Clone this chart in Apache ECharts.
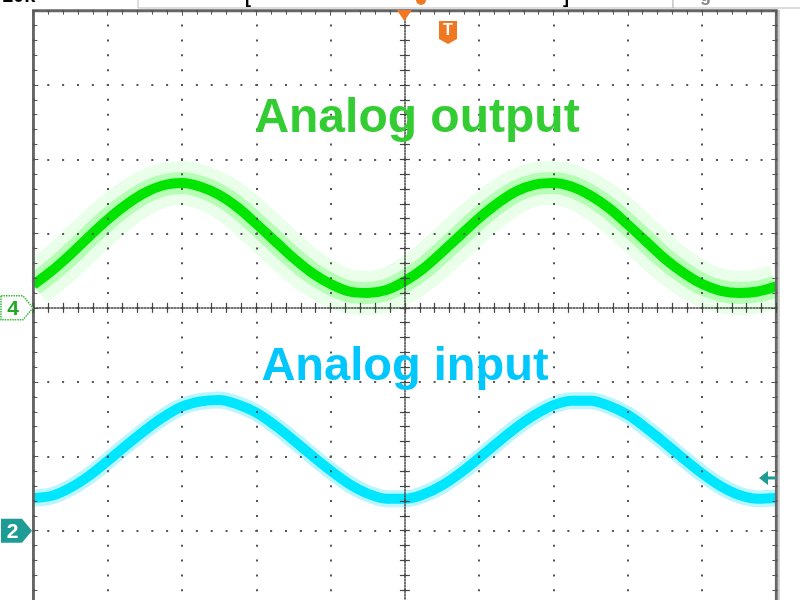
<!DOCTYPE html>
<html>
<head>
<meta charset="utf-8">
<script src="https://cdn.jsdelivr.net/npm/echarts@6.0.0/dist/echarts.min.js"></script>
<style>html,body{margin:0;padding:0;background:#fff;}#c{width:800px;height:600px;}</style>
</head>
<body>
<div id="c"></div>
<script>
// Time axis in screen divisions (0..10)
const timeDiv = [0,0.25,0.5,0.75,1,1.25,1.5,1.75,2,2.25,2.5,2.75,3,3.25,3.5,3.75,4,4.25,4.5,4.75,5,5.25,5.5,5.75,6,6.25,6.5,6.75,7,7.25,7.5,7.75,8,8.25,8.5,8.75,9,9.25,9.5,9.75,10];
// Channel 4 (green) "Analog output", vertical position in divisions from centre
const outputDiv = [0.31,0.50,0.72,0.96,1.19,1.39,1.55,1.65,1.68,1.63,1.52,1.35,1.13,0.90,0.67,0.47,0.32,0.22,0.20,0.24,0.36,0.53,0.75,0.98,1.21,1.41,1.57,1.66,1.68,1.63,1.51,1.34,1.12,0.89,0.66,0.47,0.32,0.23,0.20,0.22,0.29];
// Channel 2 (cyan) "Analog input"
const inputDiv = [-2.56,-2.53,-2.42,-2.26,-2.06,-1.85,-1.65,-1.47,-1.33,-1.26,-1.24,-1.30,-1.41,-1.58,-1.78,-1.99,-2.19,-2.37,-2.50,-2.57,-2.57,-2.51,-2.39,-2.22,-2.02,-1.81,-1.61,-1.44,-1.31,-1.25,-1.25,-1.32,-1.44,-1.62,-1.82,-2.03,-2.23,-2.40,-2.52,-2.57,-2.56];
const labels = ['Analog output', 'Analog input'];
const ch4Ground = 0, ch2Ground = -3, ch2Trigger = -2.29;

const outData = timeDiv.map((t, i) => [t, outputDiv[i]]);
const inData = timeDiv.map((t, i) => [t, inputDiv[i]]);

const chart = echarts.init(document.getElementById('c'), null, {renderer: 'canvas'});
const G = {left: 33.4, top: 10.7, width: 743, height: 594.3, containLabel: false, outerBoundsMode: 'none'};
const dotStyle = {color: '#555', width: 2, type: [2, 12.86], dashOffset: 1};
const tickCol = '#555';
function borderAxis(extra) {
  return Object.assign({
    type: 'value', z: 5, axisLabel: {show: false},
    axisLine: {show: false, onZero: false},
    axisTick: {show: true, inside: true, length: 5, lineStyle: {color: tickCol, width: 1}},
    minorTick: {show: true, splitNumber: 5, length: 4, lineStyle: {color: tickCol, width: 1}},
    splitLine: {show: false}
  }, extra);
}
function centreAxis(extra, inside, showLine) {
  return Object.assign({
    type: 'value', z: 6, axisLabel: {show: false},
    axisLine: {show: true, onZero: true, lineStyle: {color: '#444', width: 1.5, type: [1.5, 1.5], opacity: showLine ? 1 : 0}},
    axisTick: {show: true, inside: inside, length: 5, lineStyle: {color: '#444', width: 1.2}},
    minorTick: {show: true, splitNumber: 5, length: 5, lineStyle: {color: '#444', width: 1.2}},
    splitLine: {show: false}
  }, extra);
}
const lineBase = {type: 'line', xAxisIndex: 0, yAxisIndex: 0, smooth: 0.35, symbol: 'none', silent: true, z: 2};

chart.setOption({
  animation: false,
  backgroundColor: '#fff',
  grid: [
    Object.assign({show: true, borderColor: '#666', borderWidth: 3, backgroundColor: 'transparent', z: 5}, G),
    Object.assign({}, G),
    Object.assign({}, G)
  ],
  xAxis: [
    borderAxis({gridIndex: 0, min: 0, max: 10, interval: 1, position: 'top', splitLine: {show: true, lineStyle: dotStyle}}),
    centreAxis({gridIndex: 1, min: -5, max: 5, interval: 1}, true, true),
    centreAxis({gridIndex: 2, min: -5, max: 5, interval: 1}, false, false)
  ],
  yAxis: [
    borderAxis({gridIndex: 0, min: -4, max: 4, interval: 1, position: 'left', splitLine: {show: true, lineStyle: dotStyle}}),
    borderAxis({gridIndex: 0, min: -4, max: 4, interval: 1, position: 'right'}),
    centreAxis({gridIndex: 1, min: -4, max: 4, interval: 1}, true, true),
    centreAxis({gridIndex: 2, min: -4, max: 4, interval: 1}, false, false)
  ],
  series: [
    Object.assign({data: outData, lineStyle: {width: 44, color: 'rgba(195,255,195,0.35)', cap: 'butt'}}, lineBase),
    Object.assign({data: outData, lineStyle: {width: 22, color: 'rgba(120,250,120,0.45)', cap: 'butt'}}, lineBase),
    Object.assign({data: outData, lineStyle: {width: 10, color: '#00e400', cap: 'butt'}}, lineBase),
    Object.assign({data: inData, lineStyle: {width: 17, color: 'rgba(120,235,255,0.5)', cap: 'butt'}}, lineBase),
    Object.assign({data: inData, lineStyle: {width: 10, color: '#00e6ff', cap: 'butt'}}, lineBase)
  ]
});

const y4 = chart.convertToPixel({yAxisIndex: 0}, ch4Ground);
const y2 = chart.convertToPixel({yAxisIndex: 0}, ch2Ground);
const yT = chart.convertToPixel({yAxisIndex: 0}, ch2Trigger);
const xc = chart.convertToPixel({xAxisIndex: 0}, 5);
const xl = G.left, xr = G.left + G.width;
const orange = '#f07820', teal = '#1e9b95';
const font = (s) => 'bold ' + s + 'px "Liberation Sans", Arial, sans-serif';

chart.setOption({
  graphic: [
    // white margins outside the screen (hide trace overflow)
    {type: 'rect', z: 8, shape: {x: 0, y: 0, width: xl - 1.5, height: 600}, style: {fill: '#fff'}},
    {type: 'rect', z: 8, shape: {x: xr + 1.5, y: 0, width: 30, height: 600}, style: {fill: '#fff'}},
    {type: 'rect', z: 8, shape: {x: xr + 1.5, y: 10, width: 2, height: 600}, style: {fill: '#ccc'}},
    // top status bar remnants
    {type: 'rect', z: 10, shape: {x: 138, y: -20, width: 535, height: 28}, style: {fill: '#fff', stroke: '#bbb', lineWidth: 1}},
    {type: 'rect', z: 10, shape: {x: 673, y: -20, width: 140, height: 28}, style: {fill: '#fff', stroke: '#bbb', lineWidth: 1}},
    {type: 'text', z: 11, x: 2, y: 6, style: {text: '10k', font: font(20), fill: '#000', verticalAlign: 'bottom'}},
    {type: 'text', z: 11, x: 245, y: 7, style: {text: '[', font: font(18), fill: '#000', verticalAlign: 'bottom'}},
    {type: 'text', z: 11, x: 563, y: 7, style: {text: ']', font: font(18), fill: '#000', verticalAlign: 'bottom'}},
    {type: 'text', z: 11, x: 700, y: 5, style: {text: 'g', font: font(18), fill: '#888', verticalAlign: 'bottom'}},
    {type: 'circle', z: 11, shape: {cx: 421, cy: 0, r: 5}, style: {fill: orange}},
    // trigger position marker
    {type: 'polygon', z: 12, shape: {points: [[xc - 8, 10], [xc + 7, 10], [xc - 0.5, 21]]}, style: {fill: orange}},
    {type: 'polygon', z: 12, shape: {points: [[439, 21], [457, 21], [457, 39], [448, 44], [439, 39]]}, style: {fill: orange}},
    {type: 'text', z: 13, x: 448, y: 31, style: {text: 'T', font: font(16), fill: '#fff', align: 'center', verticalAlign: 'middle'}},
    // channel ground markers
    {type: 'polygon', z: 12, shape: {points: [[1, y4 - 12], [23, y4 - 12], [33, y4], [23, y4 + 12], [1, y4 + 12]]},
     style: {fill: '#fff', stroke: '#33bb33', lineWidth: 1.5, lineDash: [1.5, 1]}},
    {type: 'text', z: 13, x: 13, y: y4 + 1, style: {text: '4', font: font(21), fill: '#22aa22', align: 'center', verticalAlign: 'middle'}},
    {type: 'polygon', z: 12, shape: {points: [[1, y2 - 12], [22, y2 - 12], [32, y2], [22, y2 + 12], [1, y2 + 12]]}, style: {fill: teal}},
    {type: 'text', z: 13, x: 12.5, y: y2 + 1, style: {text: '2', font: font(21), fill: '#fff', align: 'center', verticalAlign: 'middle'}},
    // trigger level marker
    {type: 'polygon', z: 12, shape: {points: [[759, yT], [768, yT - 7], [768, yT + 7]]}, style: {fill: teal}},
    {type: 'rect', z: 12, shape: {x: 767, y: yT - 1.5, width: xr - 767, height: 3}, style: {fill: teal}},
    // labels
    {type: 'text', z: 14, x: 417, y: 119, style: {text: labels[0], font: font(48), fill: '#33cc33', align: 'center', verticalAlign: 'middle'}},
    {type: 'text', z: 14, x: 405, y: 367, style: {text: labels[1], font: font(47), fill: '#00c8ff', align: 'center', verticalAlign: 'middle'}}
  ]
});
</script>
</body>
</html>
